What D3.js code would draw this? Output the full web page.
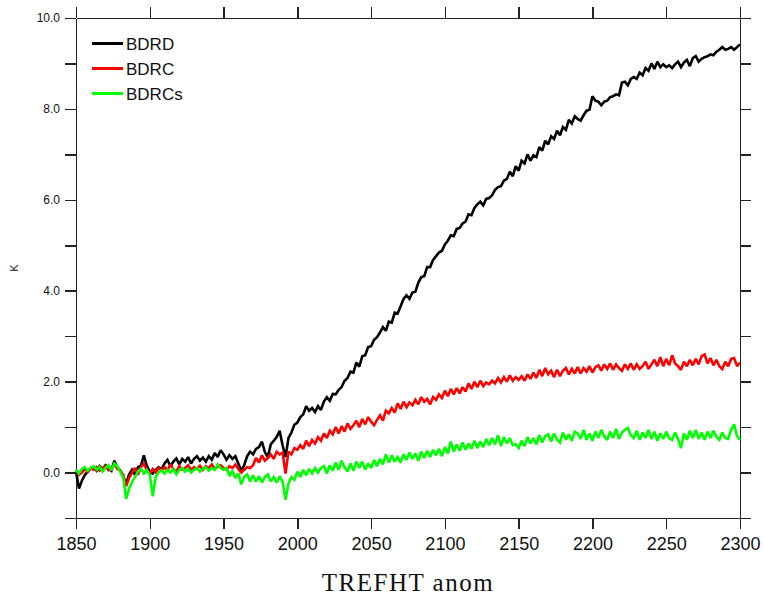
<!DOCTYPE html>
<html>
<head>
<meta charset="utf-8">
<script src="https://cdn.jsdelivr.net/npm/d3@7"></script>
<style>
  body { margin: 0; background: #fff; }
</style>
</head>
<body>
<div class="container"></div>
<script>
// years run 1850..2300, one value every 2 years
const startYear = 1850
const endYear = 2300
const yearStep = 2

const bdrd = [
  0.02, -0.35, -0.18, -0.05, 0.02, 0.08, 0.12, 0.04, 0.14, 0.07,
  0.16, 0.09, 0.04, 0.26, 0.1, 0.05, -0.1, -0.25, -0.04, 0.06,
  -0.05, 0.12, 0.15, 0.38, 0.14, 0.02, -0.02, 0.06, 0.12, 0.07,
  0.2, 0.28, 0.14, 0.24, 0.31, 0.18, 0.3, 0.24, 0.34, 0.2,
  0.3, 0.36, 0.26, 0.33, 0.24, 0.36, 0.28, 0.43, 0.34, 0.49,
  0.4, 0.28, 0.38, 0.3, 0.36, 0.2, 0.04, 0.16, 0.36, 0.46,
  0.4, 0.52, 0.56, 0.68, 0.45, 0.34, 0.62, 0.7, 0.78, 0.92,
  0.6, 0.34, 0.76, 0.88, 1.05, 1.1, 1.22, 1.28, 1.46, 1.36,
  1.42, 1.33, 1.46, 1.38, 1.56, 1.66, 1.58, 1.73, 1.72, 1.82,
  1.88, 2.02, 2.08, 2.22, 2.2, 2.42, 2.33, 2.56, 2.58, 2.76,
  2.78, 2.92, 2.98, 3.08, 3.2, 3.12, 3.32, 3.3, 3.52, 3.5,
  3.66, 3.82, 3.9, 3.82, 3.96, 3.98, 4.18, 4.3, 4.32, 4.52,
  4.52, 4.68, 4.76, 4.84, 4.88, 5.02, 5.1, 5.22, 5.2, 5.36,
  5.38, 5.48, 5.52, 5.68, 5.66, 5.82, 5.9, 5.96, 5.88, 6.02,
  6.04, 6.1, 6.22, 6.28, 6.3, 6.42, 6.46, 6.62, 6.52, 6.74,
  6.64, 6.86, 6.8, 7.0, 6.86, 6.98, 6.94, 7.16, 7.08, 7.3,
  7.22, 7.4, 7.34, 7.52, 7.42, 7.6, 7.54, 7.76, 7.68, 7.84,
  7.78, 7.74, 7.86, 7.96, 7.98, 8.28, 8.18, 8.16, 8.08, 8.16,
  8.18, 8.26, 8.28, 8.32, 8.3, 8.58, 8.6, 8.52, 8.66, 8.7,
  8.66, 8.8, 8.74, 8.9, 8.84, 9.0, 8.88, 9.04, 8.92, 8.98,
  8.92, 8.96, 8.9, 8.98, 9.04, 8.92, 9.02, 9.08, 8.94, 9.12,
  9.16, 9.04, 9.1, 9.14, 9.16, 9.2, 9.18, 9.26, 9.3, 9.36,
  9.3, 9.32, 9.36, 9.3, 9.36, 9.42
]

const bdrc = [
  0.05, -0.05, 0.0, 0.08, 0.02, 0.1, 0.06, 0.12, 0.04, 0.1,
  0.14, 0.05, 0.1, 0.18, 0.08, 0.04, -0.05, -0.3, -0.12, 0.0,
  0.1, -0.05, 0.12, 0.2, 0.05, -0.02, 0.08, 0.0, 0.1, 0.04,
  0.12, 0.05, 0.18, 0.08, 0.02, 0.14, 0.06, 0.1, 0.16, 0.05,
  0.12, 0.08, 0.15, 0.06, 0.14, 0.1, 0.18, 0.08, 0.13, 0.16,
  0.1, 0.06, 0.14, 0.1, 0.18, 0.08, 0.0, 0.06, 0.12, 0.1,
  0.16, 0.32, 0.22, 0.38, 0.26, 0.32, 0.4, 0.3, 0.46, 0.4,
  0.44, -0.02, 0.46, 0.4, 0.54, 0.5, 0.6, 0.52, 0.7, 0.58,
  0.72, 0.64, 0.78, 0.7, 0.86, 0.76, 0.92, 0.84, 1.0, 0.86,
  1.02, 0.9, 1.08, 0.96, 1.04, 1.14, 1.0, 1.18, 1.06, 1.22,
  1.12, 1.04, 1.16, 1.26, 1.14, 1.36, 1.3, 1.42, 1.32, 1.52,
  1.4, 1.56, 1.44, 1.54, 1.48, 1.6, 1.5, 1.66, 1.56, 1.62,
  1.5, 1.66, 1.6, 1.72, 1.64, 1.8, 1.68, 1.84, 1.72, 1.86,
  1.74, 1.88, 1.78, 1.96, 1.84, 2.0, 1.88, 2.02, 1.9, 1.98,
  1.94, 2.02, 1.96, 2.08, 1.98, 2.1, 2.0, 2.14, 2.02, 2.1,
  2.04, 2.12, 2.02, 2.16, 2.06, 2.2, 2.08, 2.26, 2.12, 2.3,
  2.16, 2.24, 2.1, 2.26, 2.12, 2.24, 2.3, 2.16, 2.28, 2.18,
  2.32, 2.18, 2.3, 2.22, 2.34, 2.2, 2.32, 2.36, 2.24, 2.38,
  2.28, 2.4, 2.26, 2.38, 2.3, 2.24, 2.38, 2.28, 2.4, 2.26,
  2.38, 2.28, 2.34, 2.44, 2.28, 2.38, 2.48, 2.34, 2.54, 2.34,
  2.5, 2.36, 2.58, 2.4, 2.34, 2.26, 2.44, 2.34, 2.48, 2.36,
  2.5, 2.38, 2.56, 2.6, 2.4, 2.52, 2.36, 2.48, 2.34, 2.28,
  2.44, 2.34, 2.5, 2.52, 2.34, 2.42
]

const bdrcs = [
  0.06, -0.02, 0.08, 0.12, 0.04, 0.1, 0.14, 0.06, 0.12, 0.02,
  0.1, 0.16, 0.05, 0.2, 0.14, 0.02, -0.1, -0.58, -0.35, -0.2,
  -0.1, 0.02, 0.08, -0.02, 0.06, -0.05, -0.52, -0.1, 0.0, 0.05,
  -0.02, 0.06, 0.0, 0.08, -0.04, 0.05, 0.1, 0.02, 0.08, 0.0,
  0.06, 0.1, 0.02, 0.08, 0.12, 0.04, 0.1, 0.06, 0.18, 0.1,
  0.06, 0.1, -0.08, 0.04, -0.12, -0.02, -0.26, -0.1, -0.04, -0.2,
  -0.06, -0.2, -0.08, -0.22, -0.1, -0.04, -0.2, -0.1, -0.22, -0.08,
  -0.2, -0.6, -0.24, -0.1, -0.16, 0.02, -0.1, 0.06, -0.06, 0.08,
  -0.02, 0.1, 0.0, 0.1, 0.14, -0.02, 0.16, 0.04, 0.22, 0.06,
  0.26, 0.12, 0.02, 0.2, 0.04, 0.24, 0.1, 0.24, 0.06, 0.2,
  0.1, 0.28, 0.14, 0.3, 0.18, 0.4, 0.22, 0.38, 0.24, 0.34,
  0.22, 0.4, 0.28, 0.44, 0.3, 0.42, 0.26, 0.46, 0.32, 0.48,
  0.34, 0.5, 0.38, 0.52, 0.36, 0.56, 0.42, 0.68, 0.46, 0.62,
  0.48, 0.66, 0.5, 0.64, 0.52, 0.7, 0.54, 0.68, 0.56, 0.74,
  0.6, 0.76, 0.62, 0.82, 0.58, 0.78, 0.64, 0.76, 0.6, 0.62,
  0.54, 0.7, 0.58, 0.78, 0.64, 0.76, 0.62, 0.82, 0.66, 0.8,
  0.84, 0.68, 0.86, 0.72, 0.66, 0.88, 0.72, 0.84, 0.7, 0.9,
  0.86, 0.74, 0.94, 0.72, 0.86, 0.7, 0.9, 0.76, 0.94, 0.8,
  0.72, 0.9, 0.76, 0.96, 0.74, 0.88, 0.94, 0.98, 0.82, 0.76,
  0.92, 0.72, 0.88, 0.76, 0.94, 0.74, 0.9, 0.7, 0.86, 0.74,
  0.9, 0.76, 0.72, 0.88, 0.74, 0.54, 0.86, 0.72, 0.92, 0.76,
  0.94, 0.74, 0.88, 0.72, 0.9, 0.76, 0.92, 0.78, 0.72, 0.88,
  0.76, 0.74, 0.94, 1.06, 0.8, 0.72
]

const seriesNames = ["BDRD", "BDRC", "BDRCs"]
const seriesColors = ["#000000", "#ff0000", "#00ff00"]
const xTickValues = [1850, 1900, 1950, 2000, 2050, 2100, 2150, 2200, 2250, 2300]
const yTickValues = [-1, 0, 1, 2, 3, 4, 5, 6, 7, 8, 9, 10]
const yLabelled = [0, 2, 4, 6, 8, 10]

const years = d3.range(startYear, endYear + 1, yearStep)
const series = [bdrd, bdrc, bdrcs].map((vals, i) => ({
    name: seriesNames[i],
    color: seriesColors[i],
    values: vals.map((v, j) => ({year: years[j], value: v}))
}))

// SVG
let outerWidth = 763
let outerHeight = 597
let margin = {top: 18, right: 23, bottom: 79, left: 76}
let width = outerWidth - margin.left - margin.right
let height = outerHeight - margin.top - margin.bottom

const root = d3.select(".container")
    .append("svg")
    .attr("width", outerWidth)
    .attr("height", outerHeight)

const svg = root.append("g")
    .attr("transform", `translate(${margin.left}, ${margin.top})`)

// Scales
const xScale = d3.scaleLinear()
    .domain([startYear, endYear])
    .range([0, width])

const yScale = d3.scaleLinear()
    .domain([-1, 10])
    .range([height, 0])

// Axes (ticks point outward on all four sides)
const tickLen = 11

function styleAxis(g) {
    g.select(".domain").attr("stroke", "#222").attr("stroke-width", 1.5)
    g.selectAll(".tick line").attr("stroke", "#222").attr("stroke-width", 1.5)
    g.attr("shape-rendering", "crispEdges")
    g.attr("font-family", "'Liberation Sans', Arial, sans-serif")
}

svg.append("g")
    .attr("transform", `translate(0, ${height})`)
    .call(d3.axisBottom(xScale)
        .tickValues(xTickValues)
        .tickFormat(d3.format("d"))
        .tickSize(tickLen)
        .tickSizeOuter(0)
        .tickPadding(8))
    .call(styleAxis)
    .attr("font-size", 18)
    .selectAll("text").attr("fill", "#111")

svg.append("g")
    .call(d3.axisTop(xScale)
        .tickValues(xTickValues)
        .tickFormat("")
        .tickSize(tickLen)
        .tickSizeOuter(0))
    .call(styleAxis)

svg.append("g")
    .call(d3.axisLeft(yScale)
        .tickValues(yTickValues)
        .tickFormat(d => yLabelled.includes(d) ? d3.format(".1f")(d) : "")
        .tickSize(tickLen)
        .tickSizeOuter(0)
        .tickPadding(5))
    .call(styleAxis)
    .attr("font-size", 12)
    .selectAll("text").attr("fill", "#111")

svg.append("g")
    .attr("transform", `translate(${width}, 0)`)
    .call(d3.axisRight(yScale)
        .tickValues(yTickValues)
        .tickFormat("")
        .tickSize(tickLen)
        .tickSizeOuter(0))
    .call(styleAxis)

// Lines
const line = d3.line()
    .x(d => xScale(d.year))
    .y(d => yScale(d.value))

svg.selectAll(".series")
    .data(series)
    .enter()
    .append("path")
    .attr("class", "series")
    .attr("d", d => line(d.values))
    .attr("fill", "none")
    .attr("stroke", d => d.color)
    .attr("stroke-width", 2.6)
    .attr("stroke-linejoin", "miter")
    .attr("stroke-miterlimit", 2)

// Legend
const legend = svg.append("g")
    .attr("transform", "translate(16, 25.5)")

legend.selectAll("line")
    .data(series)
    .enter()
    .append("line")
    .attr("x1", 0)
    .attr("x2", 31)
    .attr("y1", (d, i) => i * 25)
    .attr("y2", (d, i) => i * 25)
    .attr("stroke", d => d.color)
    .attr("stroke-width", 3)

legend.selectAll("text")
    .data(series)
    .enter()
    .append("text")
    .text(d => d.name)
    .attr("x", 34)
    .attr("y", (d, i) => i * 25 + 6.5)
    .attr("font-family", "'Liberation Sans', Arial, sans-serif")
    .attr("font-size", 17)
    .attr("fill", "#111")

// Axis titles
root.append("text")
    .text("K")
    .attr("transform", `translate(18, 268) rotate(-90)`)
    .attr("text-anchor", "middle")
    .attr("font-family", "'Liberation Sans', Arial, sans-serif")
    .attr("font-size", 11)
    .attr("fill", "#111")

root.append("text")
    .text("TREFHT anom")
    .attr("x", margin.left + width / 2)
    .attr("y", 591)
    .attr("text-anchor", "middle")
    .attr("font-family", "'Liberation Serif', 'Times New Roman', serif")
    .attr("font-size", 25)
    .attr("letter-spacing", 1.5)
    .attr("fill", "#111")
</script>
</body>
</html>
